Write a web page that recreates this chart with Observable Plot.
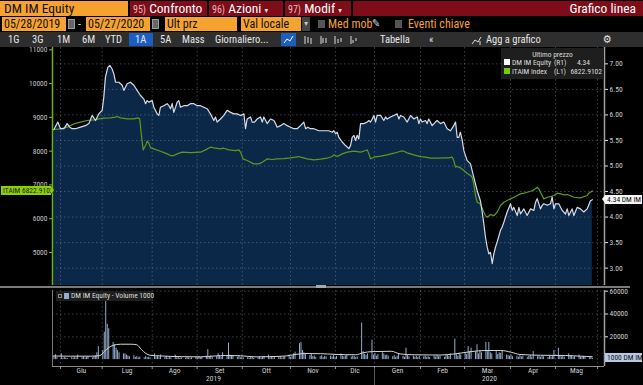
<!DOCTYPE html>
<html><head><meta charset="utf-8">
<script src="https://cdn.jsdelivr.net/npm/d3@7"></script>
<script src="https://cdn.jsdelivr.net/npm/@observablehq/plot@0.6"></script>
<style>
body{margin:0;background:#000;}
#root{position:relative;width:643px;height:385px;overflow:hidden;background:#000;font-family:"Liberation Sans Narrow","Arial Narrow","Roboto Condensed","DejaVu Sans Condensed","Liberation Sans",sans-serif;}
#root div,#root span{position:absolute;box-sizing:border-box;white-space:nowrap;}
</style></head><body><div id="root"></div>
<script>
// ---------- DATA ----------
// x positions are day offsets from 28/05/2019 (start of the 1A range)
const START = Date.UTC(2019, 4, 28);
const dt = d => new Date(START + d * 864e5);

// DM IM Equity last price (right axis, R1): [day, price]
const dmSeries = [[0.9,5.71],[3.6,5.86],[5.4,5.73],[7.7,5.73],[9.9,5.83],[11.7,5.76],[13.3,5.73],[15.6,5.73],[18.9,5.76],[22.3,5.79],[24.6,5.83],[26.8,5.99],[29.1,5.89],[31.3,6.02],[33.6,6.09],[34.7,6.35],[35.8,6.74],[37.4,6.93],[38.8,6.97],[40.3,6.90],[41.5,6.80],[42.6,6.64],[44.9,6.64],[47.1,6.58],[48.2,6.48],[50.5,6.61],[52.7,6.64],[55.0,6.58],[57.2,6.48],[59.5,6.38],[61.8,6.31],[62.9,6.22],[64.0,6.28],[65.1,6.25],[67.4,6.28],[68.5,6.15],[70.8,6.02],[71.9,5.99],[73.0,6.15],[75.3,6.18],[77.5,6.22],[78.7,6.18],[79.8,6.12],[80.9,6.22],[82.0,6.05],[83.2,6.15],[84.3,6.25],[85.4,6.28],[86.5,6.15],[88.8,6.18],[91.1,6.18],[93.3,6.22],[95.6,6.22],[97.8,6.18],[100.1,6.18],[102.3,6.15],[104.6,6.12],[106.8,6.02],[109.1,5.89],[110.2,5.96],[111.3,5.86],[113.6,5.92],[115.8,5.99],[118.1,6.09],[120.4,6.05],[122.6,6.02],[124.9,6.02],[127.1,5.99],[129.4,6.02],[130.5,5.73],[131.6,5.92],[133.9,5.96],[135.0,5.86],[136.6,5.86],[138.4,5.92],[140.6,5.96],[141.8,5.86],[142.9,5.96],[145.1,5.83],[147.4,5.92],[149.7,5.89],[150.8,5.83],[151.9,5.76],[154.2,5.79],[156.4,5.83],[158.7,5.79],[160.9,5.76],[163.2,5.73],[165.4,5.73],
[167.7,5.79],[169.9,5.86],[171.1,5.73],[172.6,5.76],[174.4,5.73],[176.7,5.73],[180.1,5.69],[183.5,5.69],[186.8,5.69],[189.1,5.66],[190.2,5.69],[191.4,5.63],[192.5,5.66],[193.6,5.56],[195.9,5.47],[198.1,5.40],[200.4,5.34],[201.5,5.40],[202.6,5.56],[203.8,5.60],[204.9,5.50],[206.0,5.60],[207.1,5.53],[208.3,5.83],[210.5,5.83],[212.8,5.86],[213.9,5.89],[215.0,5.86],[216.2,5.92],[217.3,5.99],[218.4,5.86],[219.5,5.99],[221.8,5.99],[224.0,5.89],[225.2,5.96],[226.3,5.92],[228.5,5.96],[230.8,5.99],[233.0,6.02],[234.2,5.92],[235.3,5.99],[237.5,5.96],[239.8,5.86],[242.1,5.99],[244.3,5.92],[246.6,5.96],[247.7,5.83],[248.8,5.92],[249.9,5.86],[252.2,5.89],[253.3,5.83],[254.4,5.92],[256.7,5.79],[258.9,5.86],[260.1,5.89],[262.3,5.83],[264.6,5.86],[266.8,5.73],[269.1,5.69],[271.3,5.79],[272.5,5.86],[273.6,5.56],[274.7,5.56],[275.8,5.66],[277.0,5.50],[278.1,5.30],[280.3,5.11],[282.6,5.04],[284.8,4.78],[287.1,4.52],[289.3,4.32],[290.5,4.10],[291.6,3.87],[292.7,3.61],[293.9,3.41],[295.0,3.28],[296.1,3.31],[297.3,3.09],[298.4,3.28],[299.5,3.41],[300.6,3.51],[302.9,3.74],[304.0,3.80],[305.2,3.90],[307.4,4.10],[309.7,4.26],[310.8,4.13],[311.9,4.19],[314.2,4.03],[315.3,4.19],[316.4,4.06],[318.7,4.16],[320.9,4.03],[323.2,4.16],[325.4,4.13],[326.6,4.29],[327.7,4.36],[329.9,4.16],[331.1,4.23],[332.2,4.26],[334.5,4.23],[336.7,4.26],[337.8,4.39],[339.0,4.16],[340.1,4.26],[342.3,4.26],[344.6,4.13],[346.8,4.06],[348.0,4.16],[349.1,4.03],[351.3,4.16],[352.5,4.03],[354.7,4.19],[357.0,4.16],[359.2,4.10],[361.5,4.16],[363.7,4.32],[365,4.34]];

// ITAIM Index (left axis, L1): [day, level]
const itaimSeries = [[0.9,8640],[5.4,8660],[9.9,8709],[14.4,8808],[18.9,8857],[23.4,8907],[27.9,8926],[31.3,8956],[34.7,8976],[39.2,8985],[42.6,9005],[43.7,9025],[46.0,8985],[50.5,8956],[55.0,8956],[57.7,8985],[59.0,8956],[60.0,8512],[61.3,8038],[62.9,8166],[64.0,8295],[65.1,8235],[66.3,8097],[68.5,8067],[73.0,7998],[77.5,7919],[79.8,7870],[82.0,7870],[84.3,7919],[87.7,7969],[93.3,7959],[100.1,7969],[103.4,8038],[106.8,8117],[109.1,8097],[113.6,8067],[115.8,8087],[119.2,8038],[123.7,8018],[126.0,8038],[127.1,7969],[128.9,7771],[131.6,7722],[136.1,7623],[139.5,7623],[141.8,7673],[145.1,7771],[148.5,7752],[151.9,7771],[156.4,7781],[160.9,7801],[166.6,7840],[167.7,7821],[172.2,7771],[176.7,7742],[181.2,7762],[185.7,7791],[189.1,7840],[190.2,7890],[192.5,7840],[195.9,7919],[199.3,7969],[203.8,7998],[208.3,7969],[211.7,8018],[212.8,8038],[213.9,7919],[215.0,7771],[217.3,7821],[221.8,7850],[226.3,7890],[230.8,7939],[235.3,7998],[237.5,7998],[239.8,7949],[244.3,7890],[248.8,7840],[252.2,7821],[255.6,7791],[260.1,7791],[264.6,7801],[268.0,7801],[270.2,7821],[271.3,7722],[272.5,7525],[273.6,7544],[275.8,7505],[278.1,7426],[280.3,7347],[282.6,7278],[283.7,7229],[284.8,7031],[286.0,6686],[287.1,6488],[289.3,6439],[291.6,6192],[292.7,6093],[293.9,6044],[296.1,6123],[298.4,6093],[300.6,6192],[302.9,6390],[305.2,6488],[307.4,6538],[309.7,6587],[311.9,6636],[314.2,6686],[316.4,6735],[318.7,6755],[320.9,6784],[323.2,6814],[325.4,6853],[327.7,6932],[328.8,6883],[329.9,6784],[332.2,6587],[334.5,6636],[336.7,6656],[339.0,6686],[341.2,6755],[343.5,6735],[345.7,6705],[348.0,6715],[352.5,6636],[357.0,6617],[361.5,6686],[362.6,6755],[365,6822.9102]];

// Daily volume (thousands of shares), one per weekday from 28/05/2019 to 27/05/2020
const volumeK = [1.5,2.5,4.3,1.8,
5,1.2,2.0,1.5,1.0, 1.8,1.2,2.2,1.4,4, 1.6,2.4,1.3,1.9,2.6, 1.5,2.8,3.2,6,11.3,
8,24,52,31,27, 15,13,10,8,6, 5,5,4,3.2,2.5, 3.5,2.0,2.8,1.6,2.2,
1.5,2.6,1.8,2.0,1.4, 5,2.2,3.0,1.6,4, 1.8,2.4,1.2,2.0,1.6, 4,1.5,2.2,1.0,1.8,
1.2,2.0,1.4,1.0,1.6, 2.2,1.4,2.8,1.6,2.0, 3.0,8.7,2.4,3.2,1.8, 2.6,5,3.4,2.2,6,
3.0,14.5,4.0,2.8,3.6, 2.0,3.0,1.6,2.4,1.4, 2.0,1.2,1.8,2.4,1.0, 1.6,2.2,1.2,1.8,2.6,
4,1.6,2.4,1.4,2.0, 1.8,2.6,1.2,2.0,2.4, 4,2.2,3.0,5.0,6.5, 14,15,8,6,5,
3.5,4.5,2.8,3.2,2.0, 2.6,3.4,1.8,2.8,2.2, 3.0,2.4,3.6,2.0,2.8, 5,3.0,2.4,3.2,4,
2.2,3.0,2.6,1.8,2.4, 32,7,4.5,3.5,5.0, 17,4.0,5.5,3.0,4.5, 6,5.0,3.5,4.0,3.0,
2.5,3.5,2.0,3.0,4.5, 3.0,2.0,10,3.5,2.5, 3.0,2.0,2.8,1.8,3.0, 2.4,3.2,2.0,2.6,1.8,
3.0,2.2,3.6,2.4,3.0, 2.0,3.4,4.0,2.8,5, 18,4.5,3.0,5.5,4.0, 6.0,4.5,11.5,7.0,10,
6.5,13,5.0,8,6.0, 15,7.0,15,6.0,5.0, 7,4.5,6.0,5.5,8, 4.0,3.5,3.0,4.0,2.5,
3.0,2.0,3.5,2.4,3.0, 2.0,2.8,3.4,2.2,7, 2.6,3.0,2.0,3.2,2.4, 1.8,3.0,2.2,2.6,8,
10,3.0,2.4,3.6,2.0, 5,2.8,3.2,2.0,2.6, 4,2.2,1.8,2.6,2.0, 1.6,2.2,1.0];

// Volume moving average (thousands): [day, value]
const volumeAvgK = [[0,3.2],[12,3.0],[26,3.0],[32,3.5],[35,7],[38,10.5],[41,12.5],[46,13.5],[53,13.5],[57,13],[60,9],[63,5.5],[66,3.8],[73,3.2],[87,2.6],[100,2.4],[110,3.2],[117,3.6],[127,3.4],[137,2.4],[147,2.6],[158,3.2],[164,4.5],[171,5.3],[181,5.2],[191,4.6],[205,4.2],[210,6.0],[216,7.0],[229,7.3],[235,5.0],[245,4.2],[262,4.0],[272,5.0],[283,7.0],[293,8.0],[303,8.0],[310,6.5],[316,4.5],[330,3.8],[347,3.6],[357,3.0],[365,2.5]];

// Axis ticks and labels
const rightTicks = [3, 3.5, 4, 4.5, 5, 5.5, 6, 6.5, 7];
const leftTicks = [5000, 6000, 7000, 8000, 9000, 10000, 11000];
const volumeTicks = [20000, 40000, 60000];
const monthBoundaryDay = [5.4, 33.6, 67.4, 97.8, 128.3, 160.9, 191.3, 217.7, 248.8, 278.6, 309.7, 340.1, 368.5];
const monthNames = ["Giu", "Lug", "Ago", "Set", "Ott", "Nov", "Dic", "Gen", "Feb", "Mar", "Apr", "Mag"];
const yearNames = ["2019", "2020"];
const yearBoundaryDay = [0, 217.7, 373.2];

// ---------- BUILD ----------
const root = document.getElementById("root");
function el(css, html) { const e = document.createElement("div"); e.style.cssText = css; if (html != null) e.innerHTML = html; root.appendChild(e); return e; }

const ORANGE = "#f6a22f", RED = "#7e0c19";
// Row 1
el(`left:0;top:1px;width:128px;height:15px;background:${ORANGE};color:#111;font-size:13.5px;line-height:15px;padding-left:4px;`, "DM IM Equity");
const num = n => `<span style="position:static;font-size:10px;color:#e8b8b8">${n})</span>`;
el(`left:130px;top:1px;width:77px;height:15px;background:${RED};color:#fff;font-size:13.5px;line-height:15px;padding-left:3px;`, num(95) + " Confronto");
el(`left:209px;top:1px;width:74px;height:15px;background:${RED};color:#fff;font-size:13.5px;line-height:15px;padding-left:3px;`, num(96) + " Azioni <span style='position:static;font-size:8px;color:#ddd'>&#9662;</span>");
el(`left:285px;top:1px;width:66px;height:15px;background:${RED};color:#fff;font-size:13.5px;line-height:15px;padding-left:3px;`, num(97) + " Modif <span style='position:static;font-size:8px;color:#ddd'>&#9662;</span>");
el(`left:353px;top:1px;width:290px;height:15px;background:${RED};color:#fff;font-size:13.5px;line-height:15px;padding-right:7px;text-align:right;`, "Grafico linea");
// Row 2
const ob = (l, w, t) => el(`left:${l}px;top:17px;width:${w}px;height:14px;background:${ORANGE};color:#111;font-size:12px;line-height:14px;padding-left:2px;`, t);
ob(2, 64, "05/28/2019");
el(`left:68px;top:19px;width:7px;height:10px;background:#666;border:1px solid #999;`);
el(`left:78px;top:17px;color:#ddd;font-size:12px;line-height:14px;`, "-");
ob(86, 64, "05/27/2020");
el(`left:152px;top:19px;width:7px;height:10px;background:#666;border:1px solid #999;`);
ob(165, 72, "Ult prz");
ob(241, 60, "Val locale");
el(`left:302px;top:17px;width:8px;height:14px;background:#444;color:#ccc;font-size:8px;line-height:14px;text-align:center;`, "&#9662;");
el(`left:318px;top:20px;width:7px;height:8px;background:#555;`);
el(`left:328px;top:17px;color:${ORANGE};font-size:12px;line-height:14px;`, "Med mob");
el(`left:372px;top:17px;color:#ccc;font-size:11px;line-height:14px;`, "&#9998;");
el(`left:395px;top:20px;width:7px;height:8px;background:#555;`);
el(`left:408px;top:17px;color:${ORANGE};font-size:12px;line-height:14px;`, "Eventi chiave");
// Row 3
el(`left:0;top:32px;width:643px;height:15px;background:#2e2e2e;`);
const tb = (l, t, extra = "") => el(`left:${l}px;top:32px;height:15px;color:#e6e6e6;font-size:10.5px;line-height:15px;${extra}`, t);
tb(8, "1G"); tb(32, "3G"); tb(57, "1M"); tb(82, "6M"); tb(105, "YTD");
el(`left:129px;top:33px;width:24px;height:13px;background:#1d5fc0;`);
tb(135, "1A"); tb(160, "5A"); tb(182, "Mass"); tb(215, "Giornaliero...");
el(`left:281px;top:33px;width:15px;height:13px;background:#1d5fc0;`,
  `<svg width="15" height="13" style="position:absolute;left:0;top:0"><polyline points="3,10 6,6 9,8 12,3" fill="none" stroke="#fff" stroke-width="1"/></svg>`);
const icons = [303, 318, 333, 348];
icons.forEach((x, i) => el(`left:${x}px;top:35px;width:10px;height:10px;`,
  `<svg width="10" height="10" style="position:absolute;left:0;top:0"><g stroke="#ddd" stroke-width="1"><line x1="${2+i%2}" y1="1" x2="${2+i%2}" y2="9"/><line x1="5" y1="${2+i}" x2="5" y2="8"/><line x1="8" y1="3" x2="8" y2="${9-i}"/></g></svg>`));
tb(380, "Tabella"); tb(429, "&#171;");
el(`left:471px;top:35px;width:12px;height:10px;`,
  `<svg width="12" height="10" style="position:absolute;left:0;top:0"><polyline points="1,9 4,5 7,7 10,2" fill="none" stroke="#ddd"/><line x1="9" y1="6" x2="9" y2="10" stroke="#ddd"/></svg>`);
tb(486, "Agg a grafico");
tb(603, "&#9881;", "font-size:11px;");

// ---------- CHARTS ----------
const xStart = dt(0), xEnd = dt(373.2);
const monthDates = monthBoundaryDay.map(dt);
const dmData = dmSeries.map(([d, v]) => ({date: dt(d), v}));
const itData = itaimSeries.map(([d, v]) => ({date: dt(d), v}));
const weekdays = d3.utcDays(dt(0), dt(366)).filter(d => d.getUTCDay() % 6 !== 0);
const volData = weekdays.map((date, i) => ({date, v: (volumeK[i] ?? 0) * 1000}));
const maData = volumeAvgK.map(([d, v]) => ({date: dt(d), v: v * 1000}));

const rightDomain = [2.66, 7.32];
const leftDomain = [4023, 11068];
const FONT = `"Liberation Sans Narrow","Arial Narrow","Roboto Condensed","DejaVu Sans Condensed",sans-serif`;
const baseStyle = {background: "transparent", fontSize: "7.5px", fontFamily: FONT, color: "#cfcfcf", position: "absolute", left: "0px", top: "47px", overflow: "visible"};
const frameOpts = {width: 643, height: 240, marginLeft: 52, marginRight: 39, marginTop: 0, marginBottom: 2};
const gridStyle = {stroke: "#8d9bb0", strokeOpacity: 0.4, strokeDasharray: "1.5,2.5"};

const plotA = Plot.plot({
  ...frameOpts, style: baseStyle,
  x: {type: "utc", domain: [xStart, xEnd], axis: null},
  y: {domain: rightDomain, axis: null},
  marks: [
    Plot.areaY(dmData, {x: "date", y1: rightDomain[0], y2: "v", fill: "#0c2848"}),
    Plot.ruleY(rightTicks, gridStyle),
    Plot.ruleX(monthDates, gridStyle),
    Plot.ruleX([xEnd], {stroke: "#a0a0a0", strokeWidth: 1.5}),
    Plot.axisY(rightTicks, {anchor: "right", label: null, tickFormat: d3.format(".2f"), tickSize: 3, tickPadding: 2, stroke: "#e0e0e0", fill: "#cfcfcf"})
  ]
});
const plotB = Plot.plot({
  ...frameOpts, style: baseStyle,
  x: {type: "utc", domain: [xStart, xEnd], axis: null},
  y: {domain: leftDomain, axis: null},
  marks: [
    Plot.lineY(itData, {x: "date", y: "v", stroke: "#5c9a1c", strokeWidth: 1.2}),
    Plot.ruleX([xStart], {stroke: "#6cae1f", strokeWidth: 1.5}),
    Plot.axisY(leftTicks, {anchor: "left", label: null, tickFormat: "d", tickSize: 3, tickPadding: 2, stroke: "#7cc22a", fill: "#c4c4c4"})
  ]
});
const plotC = Plot.plot({
  ...frameOpts, style: baseStyle,
  x: {type: "utc", domain: [xStart, xEnd], axis: null},
  y: {domain: rightDomain, axis: null},
  marks: [Plot.lineY(dmData, {x: "date", y: "v", stroke: "#d4dbe6", strokeWidth: 1.2})]
});
root.appendChild(plotA); root.appendChild(plotB); root.appendChild(plotC);

const applyScale = (p, n) => { const s = p.scale(n); return s.apply ? s.apply.bind(s) : d3.scaleLinear(s.domain, s.range); };
// value flags on the axes
const itLast = itaimSeries[itaimSeries.length - 1][1];
const dmLast = dmSeries[dmSeries.length - 1][1];
const yIt = 47 + applyScale(plotB, "y")(itLast);
const yDm = 47 + applyScale(plotA, "y")(dmLast);
el(`left:1px;top:${yIt - 4}px;width:50px;height:9px;background:#8fd000;color:#142000;font-size:7.5px;line-height:9px;padding-left:2px;font-family:${FONT};`, "ITAIM " + d3.format(".4f")(itLast));
el(`left:51px;top:${yIt - 4}px;width:0;height:0;border-top:4.5px solid transparent;border-bottom:4.5px solid transparent;border-left:3px solid #8fd000;`);
el(`left:605px;top:${yDm - 4.5}px;width:37px;height:9px;background:#f4f4f4;color:#111;font-size:7.5px;line-height:9px;padding-left:2px;font-family:${FONT};`, d3.format(".2f")(dmLast) + " DM IM");
el(`left:602px;top:${yDm - 4.5}px;width:0;height:0;border-top:4.5px solid transparent;border-bottom:4.5px solid transparent;border-right:3px solid #f4f4f4;`);

// legend
const lg = el(`left:501px;top:48px;width:103px;height:31px;background:#1e1e1e;color:#dcdcdc;font-size:7.5px;font-family:${FONT};`);
lg.innerHTML = `<span style="left:0;width:103px;top:2px;text-align:center">Ultimo prezzo</span>
<span style="left:3px;top:11px;width:6px;height:6px;background:#fff"></span>
<span style="left:11px;top:9.5px">DM IM Equity</span><span style="left:53px;top:9.5px">(R1)</span><span style="right:14px;top:9.5px">${d3.format(".2f")(dmLast)}</span>
<span style="left:3px;top:20px;width:6px;height:6px;background:#7cc800"></span>
<span style="left:11px;top:18.5px">ITAIM Index</span><span style="left:53px;top:18.5px">(L1)</span><span style="right:2px;top:18.5px">${d3.format(".4f")(itLast)}</span>`;

// separator between panels
el(`left:0;top:286px;width:630px;height:2px;background:#7a7a7a;`);
el(`left:316px;top:285px;width:10px;height:3px;background:#aaa;`);

// ---------- VOLUME PANEL ----------
const volDomain = [-6053, 60614];
const monthMid = monthDates.slice(0, -1).map((d, i) => new Date((+d + +monthDates[i + 1]) / 2));
const yearMid = yearNames.map((y, i) => dt((yearBoundaryDay[i] + yearBoundaryDay[i + 1]) / 2));
const plotD = Plot.plot({
  width: 643, height: 97, marginLeft: 52, marginRight: 39, marginTop: 2, marginBottom: 19,
  style: {...baseStyle, top: "288px"},
  x: {type: "utc", domain: [xStart, xEnd], axis: null},
  y: {domain: volDomain, axis: null},
  marks: [
    Plot.ruleY(volumeTicks, gridStyle),
    Plot.ruleX(monthDates, gridStyle),
    Plot.ruleX(volData, {x: "date", y1: 0, y2: "v", stroke: "#93abcd", strokeWidth: 1}),
    Plot.lineY(maData, {x: "date", y: "v", stroke: "#d6d6d6", strokeWidth: 1, curve: "monotone-x"}),
    Plot.ruleX([xStart], {stroke: "#777"}),
    Plot.ruleX([xEnd], {stroke: "#a0a0a0", strokeWidth: 1.5}),
    Plot.ruleY([volDomain[0]], {stroke: "#8a8a8a"}),
    Plot.axisY(volumeTicks, {anchor: "right", label: null, tickFormat: "d", tickSize: 3, tickPadding: 2, stroke: "#e0e0e0", fill: "#cfcfcf"}),
    Plot.axisX(monthDates, {anchor: "bottom", label: null, tickSize: 3, tickFormat: () => "", stroke: "#999"}),
    Plot.text(monthNames, {x: (d, i) => monthMid[i], frameAnchor: "bottom", dy: 6, fill: "#cfcfcf"}),
    Plot.text(yearNames, {x: (d, i) => yearMid[i], frameAnchor: "bottom", dy: 14, fill: "#cfcfcf"})
  ]
});
root.appendChild(plotD);
const xD = applyScale(plotD, "x");
const yD = applyScale(plotD, "y");
// year separator
el(`left:${xD(monthDates[7])}px;top:368px;width:1px;height:17px;background:#555;`);
// volume legend
el(`left:56px;top:291px;width:97px;height:10px;background:#1e1e1e;color:#dcdcdc;font-size:7.5px;line-height:10px;font-family:${FONT};`,
  `<span style="left:2px;top:3px;width:4px;height:4px;border:1px solid #888"></span><span style="left:8px;top:2px;width:5px;height:6px;background:#93abcd"></span><span style="left:15px;top:0">DM IM Equity - Volume ${d3.format("d")(volumeK[volumeK.length-1]*1000)}</span>`);
const yVol = 288 + yD(volumeK[volumeK.length - 1] * 1000);
el(`left:605px;top:${yVol - 4.5}px;width:37px;height:9px;background:#b6c9e2;color:#112;font-size:7.5px;line-height:9px;padding-left:2px;font-family:${FONT};`, d3.format("d")(volumeK[volumeK.length-1]*1000) + " DM IM");
</script></body></html>
